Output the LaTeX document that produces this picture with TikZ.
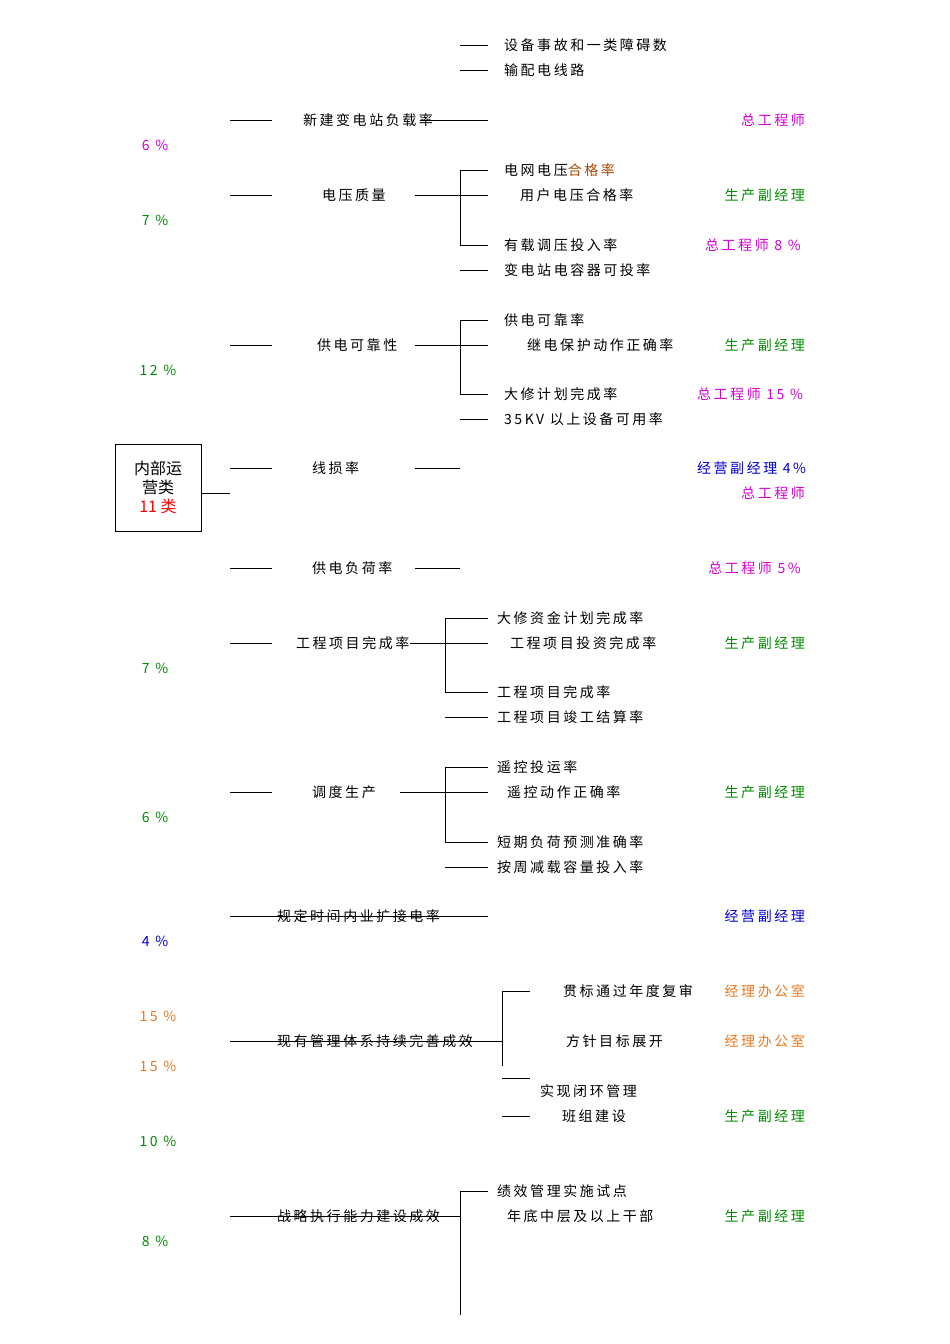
\documentclass[tikz,border=0pt]{standalone}
\usepackage{fontspec}
\setmainfont[LetterSpace=18]{Noto Sans CJK SC}
\newfontfamily\boxfont{Noto Sans CJK SC}
\definecolor{mg}{RGB}{214,0,214}
\definecolor{gn}{RGB}{0,140,0}
\definecolor{og}{RGB}{235,120,30}
\definecolor{bl}{RGB}{0,0,210}
\definecolor{br}{RGB}{170,70,0}
\begin{document}
\begin{tikzpicture}[x=1pt,y=-1pt,
  font=\fontsize{14}{16}\selectfont,
  t/.style={inner sep=0pt,anchor=west},
  tr/.style={inner sep=0pt,anchor=east},
  ln/.style={line width=0.8pt}]
\useasboundingbox (0,0) rectangle (950,1344);
% top
\draw[ln] (460,45) -- (488,45); \node[t] (a1) at (504,45) {设备事故和一类障碍数};
\draw[ln] (460,70) -- (488,70); \node[t] (a2) at (504,70) {输配电线路};
% 新建变电站负载率
\draw[ln] (230,120) -- (272,120); \draw[ln] (420,120) -- (488,120);
\node[t] (b1) at (303,120) {新建变电站负载率};
\node[tr,mg] at (805,120) {总工程师};
\node[mg] at (155,145) {6 \%};
% 电压质量
\draw[ln] (230,195) -- (272,195); \node[t] at (322,195) {电压质量};
\draw[ln] (415,195) -- (488,195); \draw[ln] (460,170) -- (460,245);
\draw[ln] (460,170) -- (488,170); \draw[ln] (460,245) -- (488,245);
\node[t] at (504,170) {电网电压\textcolor{br}{合格率}};
\node[t] at (520,195) {用户电压合格率};
\node[tr,gn] at (805,195) {生产副经理};
\node[gn] at (155,220) {7 \%};
\node[t] at (504,245) {有载调压投入率};
\node[t,mg] at (705,245) {总工程师 8 \%};
\draw[ln] (460,270) -- (488,270); \node[t] at (504,270) {变电站电容器可投率};
% 供电可靠性
\draw[ln] (230,345) -- (272,345); \node[t] at (317,345) {供电可靠性};
\draw[ln] (415,345) -- (488,345); \draw[ln] (460,320) -- (460,394);
\draw[ln] (460,320) -- (488,320); \draw[ln] (460,394) -- (488,394);
\node[t] at (504,320) {供电可靠率};
\node[t] at (527,345) {继电保护动作正确率};
\node[tr,gn] at (805,345) {生产副经理};
\node[gn] at (158,370) {12 \%};
\node[t] at (504,394) {大修计划完成率};
\node[t,mg] at (697,394) {总工程师 15 \%};
\draw[ln] (460,419) -- (488,419); \node[t] at (504,419) {35KV 以上设备可用率};
% box
\node[draw,ln,minimum width=86pt,minimum height=87pt,align=center,font=\boxfont\fontsize{16}{19}\selectfont] (box) at (158,487.5) {内部运\\营类\\\textcolor{red}{11 类}};
\coordinate (bx) at (230,493);
\draw[ln] (box.east |- bx) -- (bx);
% 线损率
\draw[ln] (230,468) -- (272,468); \node[t] at (312,468) {线损率};
\draw[ln] (415,468) -- (460,468);
\node[t,bl] at (697,468) {经营副经理 4\%};
\node[tr,mg] at (805,493) {总工程师};
% 供电负荷率
\draw[ln] (230,568) -- (272,568); \node[t] at (312,568) {供电负荷率};
\draw[ln] (415,568) -- (460,568);
\node[tr,mg] at (801,568) {总工程师 5\%};
% 工程项目完成率
\draw[ln] (230,643) -- (272,643); \draw[ln] (410,643) -- (488,643);
\node[t] at (296,643) {工程项目完成率};
\draw[ln] (445,618) -- (445,692); \draw[ln] (445,618) -- (488,618); \draw[ln] (445,692) -- (488,692);
\node[t] at (497,618) {大修资金计划完成率};
\node[t] at (510,643) {工程项目投资完成率};
\node[tr,gn] at (805,643) {生产副经理};
\node[gn] at (155,668) {7 \%};
\node[t] at (497,692) {工程项目完成率};
\draw[ln] (445,717) -- (488,717); \node[t] at (497,717) {工程项目竣工结算率};
% 调度生产
\draw[ln] (230,792) -- (272,792); \node[t] at (312,792) {调度生产};
\draw[ln] (400,792) -- (488,792);
\draw[ln] (445,767) -- (445,842); \draw[ln] (445,767) -- (488,767); \draw[ln] (445,842) -- (488,842);
\node[t] at (497,767) {遥控投运率};
\node[t] at (507,792) {遥控动作正确率};
\node[tr,gn] at (805,792) {生产副经理};
\node[gn] at (155,817) {6 \%};
\node[t] at (497,842) {短期负荷预测准确率};
\draw[ln] (445,867) -- (488,867); \node[t] at (497,867) {按周减载容量投入率};
% 规定时间
\draw[ln] (230,916) -- (488,916);
\node[t] at (277,916) {规定时间内业扩接电率};
\node[tr,bl] at (805,916) {经营副经理};
\node[bl] at (155,941) {4 \%};
% 现有管理体系
\draw[ln] (230,1041) -- (502,1041);
\node[t] at (277,1041) {现有管理体系持续完善成效};
\draw[ln] (502,991) -- (502,1066); \draw[ln] (502,991) -- (530,991);
\draw[ln] (502,1078) -- (530,1078); \draw[ln] (502,1116) -- (530,1116);
\node[t] at (563,991) {贯标通过年度复审};
\node[tr,og] at (805,991) {经理办公室};
\node[og] at (158,1016) {15 \%};
\node[t] at (566,1041) {方针目标展开};
\node[tr,og] at (805,1041) {经理办公室};
\node[og] at (158,1066) {15 \%};
\node[t] at (540,1091) {实现闭环管理};
\node[t] at (562,1116) {班组建设};
\node[tr,gn] at (805,1116) {生产副经理};
\node[gn] at (158,1141) {10 \%};
% 战略执行
\draw[ln] (230,1216) -- (460,1216);
\node[t] at (277,1216) {战略执行能力建设成效};
\draw[ln] (460,1191) -- (460,1315); \draw[ln] (460,1191) -- (488,1191);
\node[t] at (497,1191) {绩效管理实施试点};
\node[t] at (507,1216) {年底中层及以上干部};
\node[tr,gn] at (805,1216) {生产副经理};
\node[gn] at (155,1241) {8 \%};
\end{tikzpicture}
\end{document}
